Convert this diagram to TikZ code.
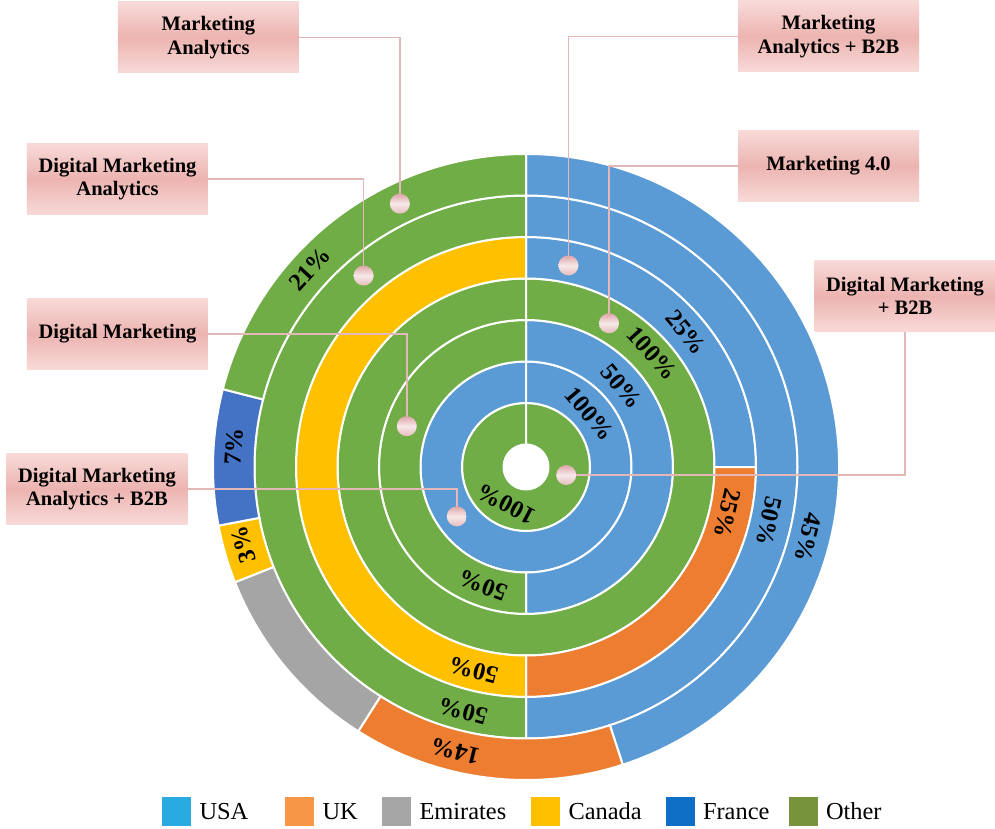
\documentclass[tikz,border=0pt]{standalone}
\usepackage{fontspec}
\setmainfont{Liberation Serif}
\usetikzlibrary{positioning}

\definecolor{usa}{HTML}{5B9BD5}
\definecolor{uk}{HTML}{ED7D31}
\definecolor{emi}{HTML}{A5A5A5}
\definecolor{can}{HTML}{FFC000}
\definecolor{fra}{HTML}{4472C4}
\definecolor{oth}{HTML}{70AD47}
\definecolor{usaL}{HTML}{29ABE2}
\definecolor{ukL}{HTML}{F79646}
\definecolor{emiL}{HTML}{A6A6A6}
\definecolor{canL}{HTML}{FFC000}
\definecolor{fraL}{HTML}{0F6FC6}
\definecolor{othL}{HTML}{77933C}
\definecolor{boxlt}{HTML}{F8DAD8}
\definecolor{boxdk}{HTML}{ECB4B0}
\definecolor{linkc}{HTML}{E4B8B8}
\definecolor{dotc}{HTML}{DFA5A7}

\begin{document}
\begin{tikzpicture}[x=0.75pt,y=0.75pt,
	seg/.style={draw=white, line width=1.5pt},
	pct/.style={font=\fontsize{18.5}{19}\selectfont\bfseries, inner sep=0pt},
	box/.style={top color=boxlt, bottom color=boxlt, middle color=boxdk, minimum width=135.75pt, minimum height=53.25pt, align=center, font=\fontsize{15.4}{17.5}\selectfont\bfseries},
	link/.style={draw=linkc, line width=1.1pt},
	dot/.style={circle, top color=dotc, bottom color=dotc!75!white, middle color=dotc!25!white, minimum size=15pt, inner sep=0pt},
	legsq/.style={minimum size=21.75pt, inner sep=0pt},
	legtxt/.style={font=\fontsize{18.3}{18.3}\selectfont, inner sep=0pt}]
	\useasboundingbox (-526,-361) rectangle (469,467);
	
	% rings, from the hole outwards
	\foreach \ri/\ro/\a/\b/\c in {
		22.5/64/90/-270/oth,
		64/105.5/90/-270/usa,
		105.5/147/90/-90/usa, 105.5/147/-90/-270/oth,
		147/188.5/90/-270/oth,
		188.5/230/90/0/usa, 188.5/230/0/-90/uk, 188.5/230/-90/-270/can,
		230/271.5/90/-90/usa, 230/271.5/-90/-270/oth,
		271.5/313/90/-72/usa, 271.5/313/-72/-122.4/uk, 271.5/313/-122.4/-158.4/emi,
		271.5/313/-158.4/-169.2/can, 271.5/313/-169.2/-194.4/fra, 271.5/313/-194.4/-270/oth}
		\draw [seg, fill=\c] (\a:\ri) arc (\a:\b:\ri) -- (\b:\ro) arc (\b:\a:\ro) -- cycle;
	
	\foreach \a/\r/\t [count=\i] in {-118/42/100\%, 40/83/100\%, 40/125/50\%, -110/126/50\%,
		42/170/100\%, 40/209/25\%, -13/207/25\%, -104.5/210/50\%, -12.5/249/50\%,
		-104.5/252/50\%, -14/291/45\%, -104/293/14\%, -164.6/293/3\%, 176/293/7\%, 137.5/293/21\%}
		\node [pct, rotate=\a-90] (p\i) at (\a:\r) {\t};
	
	% callouts
	\node [box] (bMA) at (-317.5,429.5) {Marketing\\Analytics};
	\node [box] (bDMA) at (-408.5,288) {Digital Marketing\\Analytics};
	\node [box] (bDM) at (-408.5,133) {Digital Marketing};
	\node [box] (bDMAB) at (-429,-22) {Digital Marketing\\Analytics + B2B};
	\node [box] (bMAB) at (302.5,430.5) {Marketing\\Analytics + B2B};
	\node [box] (bM4) at (302.5,301) {Marketing 4.0};
	\node [box] (bDMB) at (379,171) {Digital Marketing\\+ B2B};
	
	\coordinate (cMA) at (115.6:292);
	\coordinate (cDMA) at (130.3:251);
	\coordinate (cDM) at (161.1:126);
	\coordinate (cDMAB) at (-144.5:85);
	\coordinate (cMAB) at (78.1:206);
	\coordinate (cM4) at (60:166);
	\coordinate (cDMB) at (-11.3:41);
	
	\draw [link] (bMA.east) -| (cMA);
	\draw [link] (bDMA.east) -| (cDMA);
	\draw [link] (bDM.east) -| (cDM);
	\draw [link] (bDMAB.east) -| (cDMAB);
	\draw [link] (bMAB.west) -| (cMAB);
	\draw [link] (bM4.west) -| (cM4);
	\draw [link] (bDMB.south) |- (cDMB);
	
	\node [dot] (dMA) at (cMA) {};
	\node [dot] (dDMA) at (cDMA) {};
	\node [dot] (dDM) at (cDM) {};
	\node [dot] (dDMAB) at (cDMAB) {};
	\node [dot] (dMAB) at (cMAB) {};
	\node [dot] (dM4) at (cM4) {};
	\node [dot] (dDMB) at (cDMB) {};
	
	% legend
	\foreach \c/\x/\t [count=\i] in {usaL/-349.5/USA, ukL/-226.5/UK, emiL/-129.5/Emirates,
		canL/19.5/Canada, fraL/154/France, othL/277/Other} {
		\node [legsq, fill=\c] (k\i) at (\x,-344.5) {};
		\node [legtxt, right=6pt of k\i] (t\i) {\t};
	}
\end{tikzpicture}
\end{document}
